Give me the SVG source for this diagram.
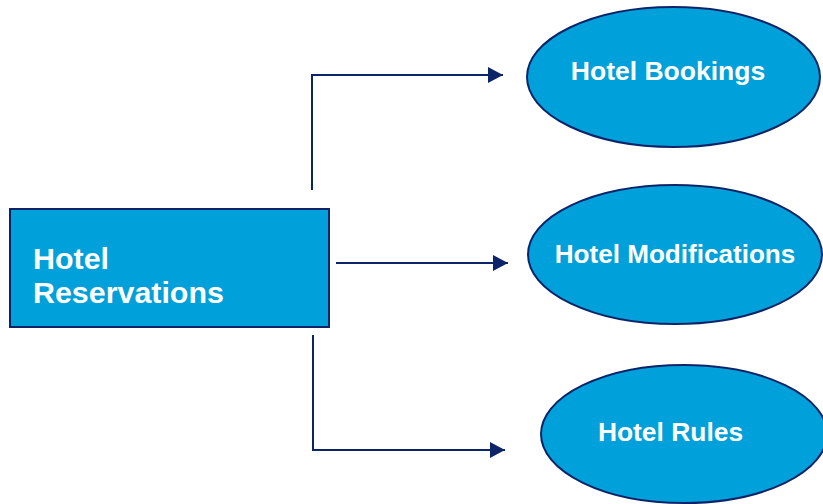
<svg xmlns="http://www.w3.org/2000/svg" width="823" height="504" viewBox="0 0 823 504">
<style>
.node{fill:#00A0DA;stroke:#0D2468;stroke-width:2}
.lbl{font-family:"Liberation Sans",Arial,sans-serif;font-weight:bold;fill:#ffffff}
.conn{fill:none;stroke:#0D2468;stroke-width:2}
</style>
<defs>
<marker id="arr" viewBox="0 0 15 16" refX="15" refY="8" markerWidth="15" markerHeight="16" markerUnits="userSpaceOnUse" orient="auto">
<path d="M0,0 L15,8 L0,16 Z" fill="#0D2468"/>
</marker>
</defs>
<rect width="823" height="504" fill="#ffffff"/>
<g id="connectors">
<path class="conn" d="M312,190 L312,75 L503,75" marker-end="url(#arr)"/>
<path class="conn" d="M336,263 L508,263" marker-end="url(#arr)"/>
<path class="conn" d="M313,335 L313,450 L505,450" marker-end="url(#arr)"/>
</g>
<g id="hotel-reservations">
<rect class="node" x="10" y="209" width="319" height="118"/>
<text class="lbl" x="33" y="269" font-size="30.4">Hotel</text>
<text class="lbl" x="33" y="303" font-size="30.4">Reservations</text>
</g>
<g id="hotel-bookings">
<ellipse class="node" cx="673.5" cy="77" rx="146.5" ry="70"/>
<text class="lbl" x="668" y="80" font-size="26.5" text-anchor="middle">Hotel Bookings</text>
</g>
<g id="hotel-modifications">
<ellipse class="node" cx="675" cy="254.5" rx="147" ry="69.5"/>
<text class="lbl" x="675" y="263" font-size="26.1" text-anchor="middle">Hotel Modifications</text>
</g>
<g id="hotel-rules">
<ellipse class="node" cx="684" cy="434" rx="143" ry="69"/>
<text class="lbl" x="670.5" y="441" font-size="26.4" text-anchor="middle">Hotel Rules</text>
</g>
</svg>
